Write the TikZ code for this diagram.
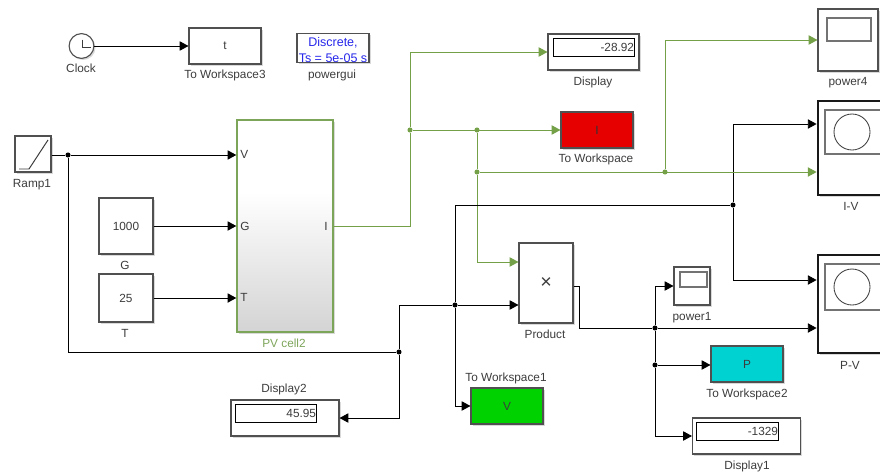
\documentclass[tikz,border=0pt]{standalone}
\usepackage{fontspec}
\setmainfont{Liberation Sans}
\usetikzlibrary{arrows.meta,shadows}
\definecolor{ink}{RGB}{60,60,60}
\definecolor{edge}{RGB}{80,80,80}
\definecolor{wgreen}{RGB}{116,160,72}
\definecolor{pvgreen}{RGB}{125,165,90}
\definecolor{wsred}{RGB}{230,0,0}
\definecolor{wsgreen}{RGB}{0,210,0}
\definecolor{wscyan}{RGB}{0,210,210}
\definecolor{guiblue}{RGB}{40,40,235}
\pgfdeclareverticalshading{pvshade}{100bp}{color(0bp)=(black!17);color(25bp)=(black!17);color(58bp)=(white);color(100bp)=(white)}
\tikzset{
  >={Triangle[length=6.2pt,width=6.6pt]},
  base font/.style={font=\fontsize{8.4}{10}\selectfont},
  block/.style={draw=edge,line width=.8pt,fill=#1,inner sep=0pt,base font,text=ink,
    drop shadow={shadow xshift=.4mm,shadow yshift=-.4mm,opacity=.3}},
  block/.default=white,
  tag/.style={base font,text=ink,inner sep=0pt,text height=6pt,text depth=1.8pt,yshift=-.7pt},
  link/.style={line width=.6pt,draw=#1},
  link/.default=black,
  flow/.style={->,link=#1},
  flow/.default=black,
  dot/.style={circle,fill=#1,inner sep=0pt,minimum size=3.6pt},
  dot/.default=black,
  screen/.style={draw=black!55,line width=1pt,fill=white,inner sep=0pt},
  readout/.style={draw=black,line width=.6pt,fill=white,inner sep=0pt,minimum height=4.5mm,
    text width=#1,align=right,base font,text=ink},
  port/.style={base font,text=ink,inner sep=0pt},
}
\begin{document}
\begin{tikzpicture}[x=0.25mm,y=-0.25mm]
  \useasboundingbox (0,0) rectangle (880,473);
  \clip (0,0) rectangle (880,473);
  % sources
  \node[circle,block,minimum size=6.2mm] (clock) at (81.5,46) {};
  \draw[line width=.7pt,draw=ink] (82,39.5) -- (82,47) -- (91,47);
  \node[block,minimum width=18mm,minimum height=9mm] (ws3) at (225,46) {t};
  \node[block,minimum width=18mm,minimum height=7mm,text=guiblue,align=center,
    font=\fontsize{8.9}{11.2}\selectfont] (gui) at (333,48) {\rule{0pt}{9pt}Discrete,\\Ts = 5e-05 s};
  \node[block,minimum width=9mm,minimum height=9mm] (ramp) at (33,154) {};
  \draw[line width=.7pt,draw=ink] (19,169) -- (29,169) -- (48,140);
  \node[block,minimum width=13.5mm,minimum height=14mm] (g) at (126,226) {1000};
  \node[block,minimum width=13.5mm,minimum height=12mm] (t) at (126,298) {25};
  % PV block
  \node[draw=pvgreen,line width=1pt,shading=pvshade,inner sep=0pt,minimum width=24mm,minimum height=53mm,
    drop shadow={shadow xshift=.4mm,shadow yshift=-.4mm,opacity=.3}] (pv) at (285,226) {};
  \node[port,anchor=west] (pv v) at (240,154) {V};
  \node[port,anchor=west] (pv g) at (240,226) {G};
  \node[port,anchor=west] (pv t) at (240,297) {T};
  \node[port,anchor=east] (pv i) at (328,226) {I};
  % sinks
  \node[block,minimum width=22.75mm,minimum height=9mm] (disp) at (593.5,52) {};
  \node[readout=20.25mm,minimum width=20.25mm] (disp val) at (593.5,47) {-28.92};
  \node[block=wsred,minimum width=18mm,minimum height=9mm,text=black!80] (wsi) at (597,130) {I};
  \node[block,minimum width=15mm,minimum height=15.5mm] (power4) at (848,40) {};
  \node[screen,minimum width=11mm,minimum height=5.75mm] (power4 scr) at (849,29.5) {};
  \node[block,line width=2pt,draw=black!90,minimum width=18mm,minimum height=23.5mm] (iv) at (854,148) {};
  \node[screen,minimum width=16.5mm,minimum height=11mm] (iv scr) at (858,132) {};
  \node[circle,draw=black!75,line width=.6pt,inner sep=0pt,minimum size=9mm] (iv ring) at (852,132) {};
  \node[block,line width=2pt,draw=black!90,minimum width=18mm,minimum height=24.5mm] (pvs) at (854,304) {};
  \node[screen,minimum width=16.5mm,minimum height=11.5mm] (pvs scr) at (858,287) {};
  \node[circle,draw=black!75,line width=.6pt,inner sep=0pt,minimum size=9mm] (pvs ring) at (852,287) {};
  \node[block,minimum width=13.5mm,minimum height=20mm,font=\fontsize{14}{15}\selectfont] (prod) at (546,283) {×};
  \node[block,minimum width=9mm,minimum height=9.5mm] (power1) at (692,286) {};
  \node[screen,minimum width=6.75mm,minimum height=3.75mm] (power1 scr) at (693.5,279.5) {};
  \node[block=wscyan,minimum width=18mm,minimum height=9mm] (wsp) at (747,364) {P};
  \node[block=wsgreen,minimum width=18mm,minimum height=9mm] (wsv) at (507,406) {V};
  \node[block,minimum width=27mm,minimum height=9mm] (disp1) at (746.5,436) {};
  \node[readout=20.5mm,minimum width=20.5mm] (disp1 val) at (737,431) {-1329};
  \node[block,minimum width=27mm,minimum height=9mm] (disp2) at (285,418) {};
  \node[readout=20.25mm,minimum width=20.25mm] (disp2 val) at (275.5,413.5) {45.95};
  % names
  \foreach \n/\s/\x/\y in {a/Clock/81/69,b/To Workspace3/225/75,c/powergui/332/75,d/Ramp1/32/184,
    e/G/125/266,f/T/125/334,h/Display/593/82,k/To Workspace/596/159,l/power4/848/82,m/I-V/851/207,
    n/Product/545/335,o/power1/692/317,p/P-V/850/366,q/To Workspace2/747/394,r/To Workspace1/506/378,
    s/Display1/747/466,u/Display2/284/389}{
    \node[tag] (name \n) at (\x,\y) {\s};
  }
  \node[tag,text=pvgreen] (name pv) at (284,344) {PV cell2};
  % junctions
  \foreach \n/\x/\y in {jr/68/155,jv/399/352,jp/455/305,jt/733/205,jo/655/328,jq/655/365}
    \node[dot] (\n) at (\x,\y) {};
  \foreach \n/\x/\y in {ji/410/130,ju/477/130,jw/477/172,js/665/172}
    \node[dot=wgreen] (\n) at (\x,\y) {};
  % black wires, first part
  \draw[flow] (clock) -- (ws3);
  \draw[link] (ramp.east |- jr) -- (jr);
  \draw[flow] (jr) -- (pv.west |- jr);
  \draw[flow] (g) -- (pv.west |- g);
  \draw[flow] (t) -- (pv.west |- t);
  \draw[link] (jr) |- (jv);
  \draw[link] (jv) |- (jp);
  \draw[flow] (jp) -- (prod.west |- jp);
  \draw[flow] (jv) |- (disp2.east);
  \draw[flow] (jp) |- (wsv.west);
  \draw[flow] (jt) |- (iv.west |- 0,124);
  \draw[flow] (jt) |- (pvs.west |- 0,280);
  % green wires
  \draw[link=wgreen,line width=.65pt] (pv.east) -| (ji);
  \draw[flow=wgreen,line width=.65pt] (ji) |- (disp.west);
  \draw[flow=wgreen,line width=.65pt] (ji) -- (wsi.west);
  \draw[link=wgreen,line width=.65pt] (ju) -- (jw);
  \draw[flow=wgreen,line width=.65pt] (jw) |- (prod.west |- 0,262);
  \draw[flow=wgreen,line width=.65pt] (jw) -- (iv.west |- jw);
  \draw[flow=wgreen,line width=.65pt] (js) |- (power4.west);
  % black wires, second part
  \draw[link] (jp) |- (jt);
  \draw[link] (prod.east |- 0,286) -- ++(6,0) |- (jo);
  \draw[flow] (jo) -- (pvs.west |- jo);
  \draw[flow] (jo) |- (power1.west);
  \draw[link] (jo) -- (jq);
  \draw[flow] (jq) -- (wsp.west |- jq);
  \draw[flow] (jq) |- (disp1.west);
\end{tikzpicture}
\end{document}
